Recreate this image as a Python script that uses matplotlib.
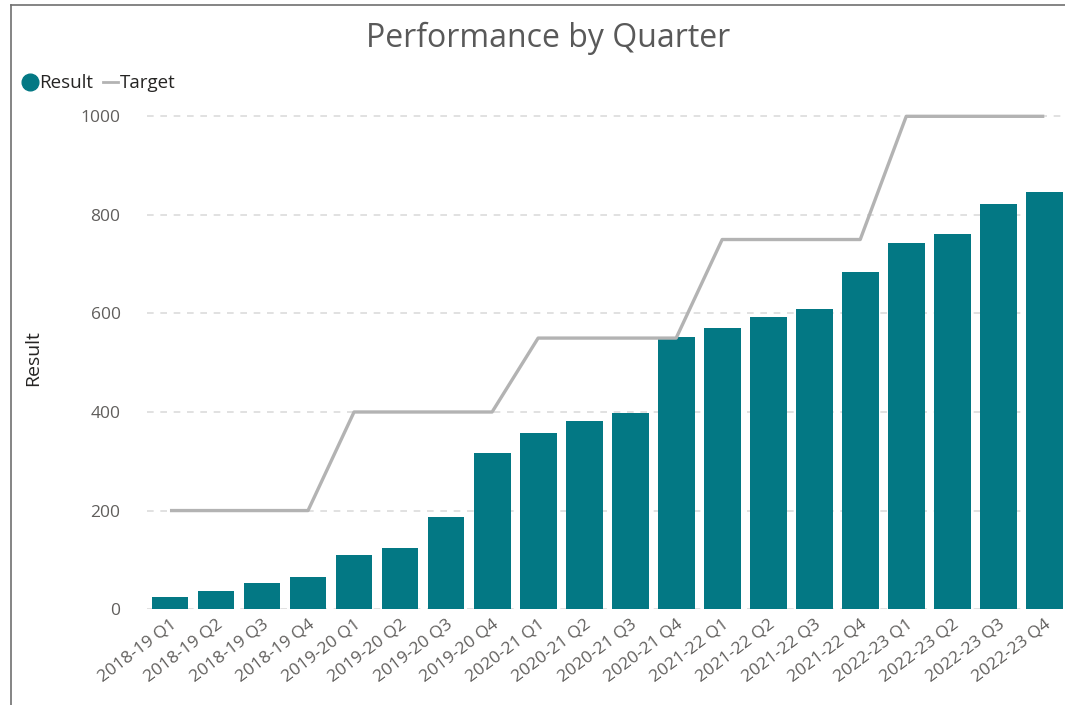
import matplotlib.pyplot as plt
from matplotlib.lines import Line2D

plt.rcParams['font.family'] = ['Open Sans', 'DejaVu Sans']

quarters = ['2018-19 Q1', '2018-19 Q2', '2018-19 Q3', '2018-19 Q4',
            '2019-20 Q1', '2019-20 Q2', '2019-20 Q3', '2019-20 Q4',
            '2020-21 Q1', '2020-21 Q2', '2020-21 Q3', '2020-21 Q4',
            '2021-22 Q1', '2021-22 Q2', '2021-22 Q3', '2021-22 Q4',
            '2022-23 Q1', '2022-23 Q2', '2022-23 Q3', '2022-23 Q4']
result = [24, 37, 53, 65, 110, 124, 187, 316, 357, 381, 398, 552,
          570, 592, 608, 684, 743, 761, 823, 846]
target = [200, 200, 200, 200, 400, 400, 400, 400, 550, 550, 550, 550,
          750, 750, 750, 750, 1000, 1000, 1000, 1000]
y_ticks = [0, 200, 400, 600, 800, 1000]

bar_color = '#037884'
line_color = '#b3b3b3'
text_color = '#605e5c'

fig = plt.figure(figsize=(10.65, 7.05), dpi=100)
ax = fig.add_axes([0.138, 0.136, 0.862, 0.713])

x = list(range(len(quarters)))
ax.bar(x, result, width=0.8, color=bar_color, zorder=2)
ax.plot(x, target, color=line_color, linewidth=2.4, zorder=3, solid_capstyle='butt')

ax.set_xlim(-0.5, 19.45)
ax.set_ylim(0, 1020)
ax.set_yticks(y_ticks)
ax.yaxis.grid(True, linestyle=(0, (4, 4)), color='#dcdcdc', linewidth=1.2, zorder=0)
ax.set_axisbelow(True)
for s in ax.spines.values():
    s.set_visible(False)
ax.tick_params(axis='both', length=0, colors=text_color, labelsize=12.5)
ax.tick_params(axis='y', pad=19)
ax.set_xticks(x)
ax.set_xticklabels(quarters, rotation=37, ha='right', rotation_mode='anchor')
ax.tick_params(axis='x', pad=5)
ax.set_ylabel('Result', fontsize=14, color='#252423', labelpad=28)

fig.text(0.515, 0.946, 'Performance by Quarter', ha='center', va='center',
         fontsize=23, color='#595959')

handles = [Line2D([], [], marker='o', linestyle='none', markersize=12,
                  color=bar_color),
           Line2D([], [], color=line_color, linewidth=2)]
fig.legend(handles, ['Result', 'Target'], loc='center left',
           bbox_to_anchor=(0.021, 0.882), ncol=2, frameon=False,
           handlelength=0.8, handletextpad=0.1, columnspacing=0.5,
           fontsize=13.5, labelcolor='#252423', borderpad=0, borderaxespad=0)

# panel border
fig.add_artist(Line2D([0.0099, 0.0099], [0.0, 0.993], color='#707070',
                      linewidth=1.2, transform=fig.transFigure))
fig.add_artist(Line2D([0.0099, 1.0], [0.993, 0.993], color='#707070',
                      linewidth=1.2, transform=fig.transFigure))

fig.savefig('out.png', dpi=100)
